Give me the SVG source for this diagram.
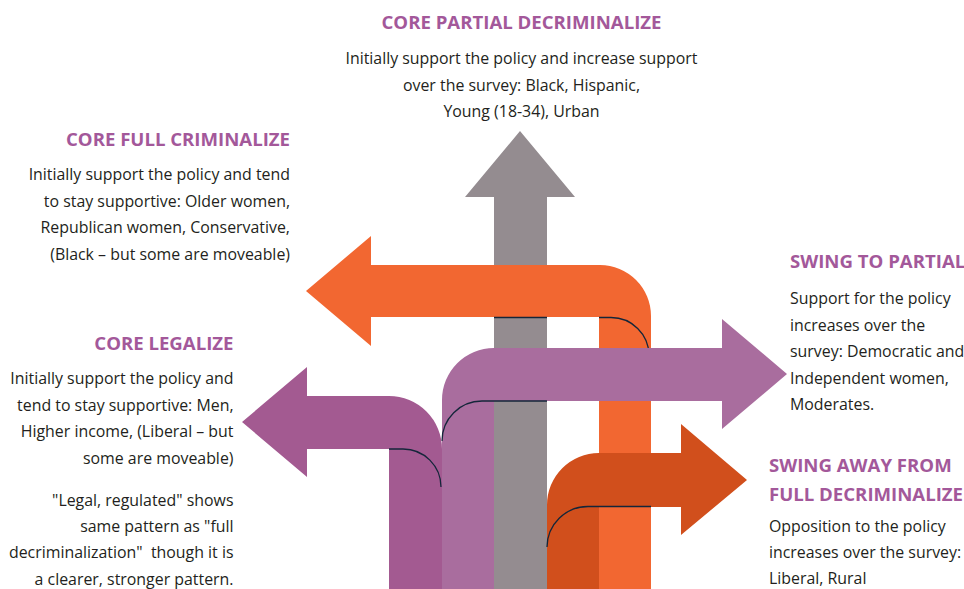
<svg xmlns="http://www.w3.org/2000/svg" width="964" height="589" viewBox="0 0 964 589">
<style>
.t{font-family:"Open Sans","Liberation Sans",sans-serif;font-weight:700;font-size:18.6px;fill:#A3589A}
.b{font-family:"Open Sans","Liberation Sans",sans-serif;font-size:15.9px;fill:#231F20}
.r{text-anchor:end}
.m{text-anchor:middle}
.ln{fill:none;stroke:#14263A;stroke-width:1.3}
</style>
<rect width="964" height="589" fill="#fff"/>
<g id="connectors">
<g id="arrow-core-partial"><path d="M494,589 L494,197 L465,197 L520,131 L575,197 L547,197 L547,589 Z" fill="#948C90"/></g>
<g id="arrow-core-full-criminalize"><path d="M599,589 L599,317 L371,317 L371,346 L306,291 L371,236 L371,265 L600,265 A51,51 0 0 1 651,316 L651,589 Z" fill="#F26731"/>
<path class="ln" d="M494,317.5 L547,317.5 M599,317.5 L611,317.5 A38,38 0 0 1 649,355"/></g>
<g id="arrow-swing-partial"><path d="M442,589 L442,400 A52,52 0 0 1 494,348 L722,348 L722,319 L787,374 L722,429 L722,401 L494,401 L494,589 Z" fill="#A96D9E"/>
<path class="ln" d="M442,441 A40,40 0 0 1 482,401 L547,401"/></g>
<g id="arrow-core-legalize"><path d="M389,589 L389,449 L307,449 L307,477 L242,422 L307,367 L307,396 L389,396 A53,53 0 0 1 442,449 L442,589 Z" fill="#A35A91"/>
<path class="ln" d="M389,449 L403,449 A38,38 0 0 1 441,487"/></g>
<g id="arrow-swing-away"><path d="M547,589 L547,505 A52,52 0 0 1 599,453 L681,453 L681,424 L747,480 L681,535 L681,507 L599,507 L599,589 Z" fill="#D14F1C"/>
<path class="ln" d="M547,547 A41,41 0 0 1 588,506.5 L651,506.5"/></g>
</g>
<g id="node-core-partial">
<text class="t m" x="521.5" y="29">CORE PARTIAL DECRIMINALIZE</text>
<text class="b m" x="521.5" y="64">Initially support the policy and increase support</text>
<text class="b m" x="521.5" y="90.5">over the survey: Black, Hispanic,</text>
<text class="b m" x="521.5" y="117">Young (18-34), Urban</text>
</g>
<g id="node-core-full-criminalize">
<text class="t r" x="290" y="146">CORE FULL CRIMINALIZE</text>
<text class="b r" x="290" y="180">Initially support the policy and tend</text>
<text class="b r" x="290" y="206.5">to stay supportive: Older women,</text>
<text class="b r" x="290" y="233">Republican women, Conservative,</text>
<text class="b r" x="290" y="259.5">(Black – but some are moveable)</text>
</g>
<g id="node-core-legalize">
<text class="t r" x="233.5" y="350">CORE LEGALIZE</text>
<text class="b r" x="233.5" y="384">Initially support the policy and</text>
<text class="b r" x="233.5" y="410.5">tend to stay supportive: Men,</text>
<text class="b r" x="233.5" y="437">Higher income, (Liberal – but</text>
<text class="b r" x="233.5" y="463.5">some are moveable)</text>
<text class="b r" x="233.5" y="506">"Legal, regulated" shows</text>
<text class="b r" x="233.5" y="532">same pattern as "full</text>
<text class="b r" x="233.5" y="558" xml:space="preserve">decriminalization"  though it is</text>
<text class="b r" x="233.5" y="584.5">a clearer, stronger pattern.</text>
</g>
<g id="node-swing-partial">
<text class="t" x="790" y="268">SWING TO PARTIAL</text>
<text class="b" x="790" y="304">Support for the policy</text>
<text class="b" x="790" y="330.5">increases over the</text>
<text class="b" x="790" y="357">survey: Democratic and</text>
<text class="b" x="790" y="383.5">Independent women,</text>
<text class="b" x="790" y="410">Moderates.</text>
</g>
<g id="node-swing-away">
<text class="t" x="769" y="472">SWING AWAY FROM</text>
<text class="t" x="769" y="501">FULL DECRIMINALIZE</text>
<text class="b" x="769" y="532">Opposition to the policy</text>
<text class="b" x="769" y="558">increases over the survey:</text>
<text class="b" x="769" y="584">Liberal, Rural</text>
</g>
</svg>
